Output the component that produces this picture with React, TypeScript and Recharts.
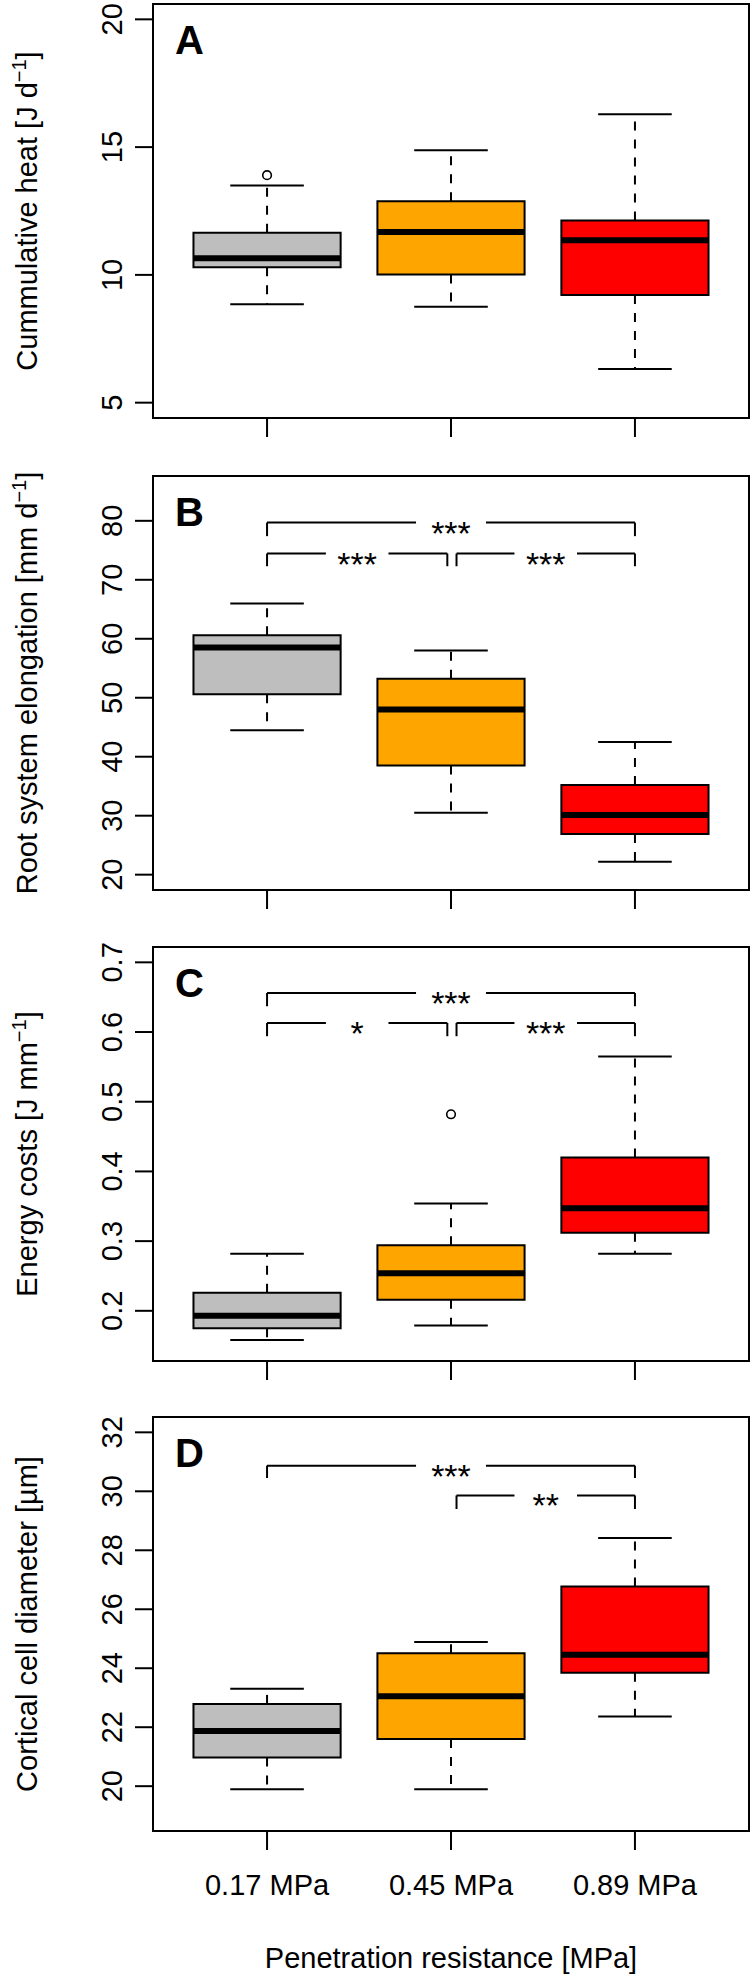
import React from 'react';
import {
  ComposedChart,
  XAxis,
  YAxis,
  ReferenceArea,
  ReferenceLine,
  ReferenceDot,
  Scatter,
} from 'recharts';

// ---------- shared categories ----------
const categories = ['0.17 MPa', '0.45 MPa', '0.89 MPa'];
const groupPositions = [1, 2, 3];
const boxColors = ['#BEBEBE', '#FFA500', '#FF0000'];
const xAxisTitle = 'Penetration resistance [MPa]';

type Bracket = { from: number; to: number; y: number; leg: number; label: string };

// ---------- Panel A: cumulative heat ----------
const heatLower = [8.85, 8.75, 6.32];
const heatQ1 = [10.3, 10.02, 9.21];
const heatMedian = [10.65, 11.68, 11.36];
const heatQ3 = [11.65, 12.88, 12.13];
const heatUpper = [13.5, 14.88, 16.29];
const heatOutliers = [{ x: 1, y: 13.9 }];
const heatTicks = [5, 10, 15, 20];
const heatLimits = [5, 20];
const heatBrackets: Bracket[] = [];

// ---------- Panel B: root system elongation ----------
const elongLower = [44.5, 30.5, 22.2];
const elongQ1 = [50.6, 38.5, 26.9];
const elongMedian = [58.5, 48.0, 30.1];
const elongQ3 = [60.6, 53.2, 35.2];
const elongUpper = [66.0, 58.0, 42.5];
const elongOutliers: { x: number; y: number }[] = [];
const elongTicks = [20, 30, 40, 50, 60, 70, 80];
const elongLimits = [20, 85];
const elongBrackets: Bracket[] = [
  { from: 1, to: 3, y: 79.7, leg: 77.4, label: '***' },
  { from: 1, to: 1.98, y: 74.45, leg: 72.3, label: '***' },
  { from: 2.03, to: 3, y: 74.45, leg: 72.3, label: '***' },
];

// ---------- Panel C: energy costs ----------
const energyLower = [0.158, 0.179, 0.282];
const energyQ1 = [0.175, 0.216, 0.312];
const energyMedian = [0.193, 0.254, 0.347];
const energyQ3 = [0.226, 0.294, 0.42];
const energyUpper = [0.282, 0.354, 0.565];
const energyOutliers = [{ x: 2, y: 0.482 }];
const energyTicks = [0.2, 0.3, 0.4, 0.5, 0.6, 0.7];
const energyLimits = [0.15, 0.7];
const energyBrackets: Bracket[] = [
  { from: 1, to: 3, y: 0.656, leg: 0.637, label: '***' },
  { from: 1, to: 1.98, y: 0.613, leg: 0.594, label: '*' },
  { from: 2.03, to: 3, y: 0.613, leg: 0.594, label: '***' },
];

// ---------- Panel D: cortical cell diameter ----------
const cellLower = [19.9, 19.9, 22.36];
const cellQ1 = [20.97, 21.6, 23.85];
const cellMedian = [21.87, 23.05, 24.46];
const cellQ3 = [22.79, 24.51, 26.77];
const cellUpper = [23.3, 24.89, 28.42];
const cellOutliers: { x: number; y: number }[] = [];
const cellTicks = [20, 22, 24, 26, 28, 30, 32];
const cellLimits = [19, 32];
const cellBrackets: Bracket[] = [
  { from: 1, to: 3, y: 30.87, leg: 30.45, label: '***' },
  { from: 2.03, to: 3, y: 29.86, leg: 29.4, label: '**' },
];

type PanelSpec = {
  letter: string;
  titleMain: string;
  titleSup: string;
  titleEnd: string;
  lower: number[];
  q1: number[];
  median: number[];
  q3: number[];
  upper: number[];
  outliers: { x: number; y: number }[];
  ticks: number[];
  limits: number[];
  brackets: Bracket[];
};

const panels: PanelSpec[] = [
  {
    letter: 'A', titleMain: 'Cummulative heat [J d', titleSup: '−1', titleEnd: ']',
    lower: heatLower, q1: heatQ1, median: heatMedian, q3: heatQ3, upper: heatUpper,
    outliers: heatOutliers, ticks: heatTicks, limits: heatLimits, brackets: heatBrackets,
  },
  {
    letter: 'B', titleMain: 'Root system elongation [mm d', titleSup: '−1', titleEnd: ']',
    lower: elongLower, q1: elongQ1, median: elongMedian, q3: elongQ3, upper: elongUpper,
    outliers: elongOutliers, ticks: elongTicks, limits: elongLimits, brackets: elongBrackets,
  },
  {
    letter: 'C', titleMain: 'Energy costs [J mm', titleSup: '−1', titleEnd: ']',
    lower: energyLower, q1: energyQ1, median: energyMedian, q3: energyQ3, upper: energyUpper,
    outliers: energyOutliers, ticks: energyTicks, limits: energyLimits, brackets: energyBrackets,
  },
  {
    letter: 'D', titleMain: 'Cortical cell diameter [µm]', titleSup: '', titleEnd: '',
    lower: cellLower, q1: cellQ1, median: cellMedian, q3: cellQ3, upper: cellUpper,
    outliers: cellOutliers, ticks: cellTicks, limits: cellLimits, brackets: cellBrackets,
  },
];

// ---------- layout / style ----------
const FONT = "'Liberation Sans', Arial, Helvetica, sans-serif";
const X_DOMAIN = [0.38, 3.62];
const PLOT_TOPS = [4, 476, 947, 1417];
const PLOT_H = 414;
const MARGIN_TOP = 4;
const BOX_HALF = 0.4;
const CAP_HALF = 0.2;
const LW = 2;

const emptyTick = () => <g />;

const yTickStyle = {
  angle: -90,
  textAnchor: 'middle',
  verticalAnchor: 'end',
  fontSize: 29,
  fontFamily: FONT,
  fill: '#000',
};

const xTick = (props: any) => {
  const { x, y, payload } = props;
  const idx = groupPositions.indexOf(payload.value);
  return (
    <g>
      <text x={x} y={y + 43} textAnchor="middle" fontSize={29} fontFamily={FONT} fill="#000">
        {categories[idx]}
      </text>
    </g>
  );
};

const yTitle = (spec: PanelSpec) => (props: any) => {
  const vb = props.viewBox || { x: 0, y: 0, width: 0, height: 0 };
  const x = vb.x + 37;
  const cy = vb.y + vb.height / 2;
  return (
    <g transform={`translate(${x}, ${cy}) rotate(-90)`}>
      <text x={0} y={0} textAnchor="middle" fontSize={29} fontFamily={FONT} fill="#000">
        <tspan>{spec.titleMain}</tspan>
        {spec.titleSup ? (
          <tspan dy={-11} fontSize={20}>
            {spec.titleSup}
          </tspan>
        ) : null}
        {spec.titleEnd ? <tspan dy={11}>{spec.titleEnd}</tspan> : null}
      </text>
    </g>
  );
};

const xTitle = (props: any) => {
  const vb = props.viewBox || { x: 0, y: 0, width: 0, height: 0 };
  return (
    <text
      x={vb.x + vb.width / 2}
      y={vb.y + 137}
      textAnchor="middle"
      fontSize={29}
      fontFamily={FONT}
      fill="#000"
    >
      {xAxisTitle}
    </text>
  );
};

const letterLabel = (letter: string) => (props: any) => {
  const vb = props.viewBox || { x: 0, y: 0 };
  return (
    <text x={vb.x + 22} y={vb.y + 50} fontSize={40} fontWeight="bold" fontFamily={FONT} fill="#000">
      {letter}
    </text>
  );
};

const starLabel = (text: string) => (props: any) => {
  const vb = props.viewBox || { x: 0, y: 0, width: 0, height: 0 };
  const cx = vb.x + (vb.width || 0) / 2;
  const cy = vb.y + (vb.height || 0) / 2;
  return (
    <text x={cx} y={cy + 22} textAnchor="middle" fontSize={34} fontFamily={FONT} fill="#000">
      {text}
    </text>
  );
};

const outlierShape = (props: any) => (
  <circle cx={props.cx} cy={props.cy} r={4.3} fill="none" stroke="#000" strokeWidth={1.6} />
);

function Panel({ spec, showX, index }: { spec: PanelSpec; showX: boolean; index: number }) {
  const pad = (spec.limits[1] - spec.limits[0]) * 0.04;
  const yDomain = [spec.limits[0] - pad, spec.limits[1] + pad];

  const elements: React.ReactNode[] = [];

  // boxes
  groupPositions.forEach((g, i) => {
    elements.push(
      <ReferenceArea
        key={`box-${i}`}
        x1={g - BOX_HALF}
        x2={g + BOX_HALF}
        y1={spec.q1[i]}
        y2={spec.q3[i]}
        fill={boxColors[i]}
        fillOpacity={1}
        stroke="#000"
        strokeWidth={LW}
      />
    );
  });
  // whiskers and caps
  groupPositions.forEach((g, i) => {
    elements.push(
      <ReferenceLine
        key={`wu-${i}`}
        segment={[{ x: g, y: spec.q3[i] }, { x: g, y: spec.upper[i] }]}
        stroke="#000"
        strokeWidth={LW}
        strokeDasharray="9 9"
      />,
      <ReferenceLine
        key={`wl-${i}`}
        segment={[{ x: g, y: spec.q1[i] }, { x: g, y: spec.lower[i] }]}
        stroke="#000"
        strokeWidth={LW}
        strokeDasharray="9 9"
      />,
      <ReferenceLine
        key={`cu-${i}`}
        segment={[{ x: g - CAP_HALF, y: spec.upper[i] }, { x: g + CAP_HALF, y: spec.upper[i] }]}
        stroke="#000"
        strokeWidth={LW}
      />,
      <ReferenceLine
        key={`cl-${i}`}
        segment={[{ x: g - CAP_HALF, y: spec.lower[i] }, { x: g + CAP_HALF, y: spec.lower[i] }]}
        stroke="#000"
        strokeWidth={LW}
      />
    );
  });
  // medians
  groupPositions.forEach((g, i) => {
    elements.push(
      <ReferenceLine
        key={`med-${i}`}
        segment={[{ x: g - BOX_HALF, y: spec.median[i] }, { x: g + BOX_HALF, y: spec.median[i] }]}
        stroke="#000"
        strokeWidth={6}
      />
    );
  });
  // significance brackets
  spec.brackets.forEach((b, j) => {
    const mid = (b.from + b.to) / 2;
    const gap = b.to - b.from > 1.5 ? 0.19 : 0.17;
    elements.push(
      <ReferenceLine
        key={`bl-${j}`}
        segment={[{ x: b.from, y: b.y }, { x: mid - gap, y: b.y }]}
        stroke="#000"
        strokeWidth={LW}
      />,
      <ReferenceLine
        key={`br-${j}`}
        segment={[{ x: mid + gap, y: b.y }, { x: b.to, y: b.y }]}
        stroke="#000"
        strokeWidth={LW}
      />,
      <ReferenceLine
        key={`bll-${j}`}
        segment={[{ x: b.from, y: b.y }, { x: b.from, y: b.leg }]}
        stroke="#000"
        strokeWidth={LW}
      />,
      <ReferenceLine
        key={`brl-${j}`}
        segment={[{ x: b.to, y: b.y }, { x: b.to, y: b.leg }]}
        stroke="#000"
        strokeWidth={LW}
      />,
      <ReferenceDot
        key={`bt-${j}`}
        x={mid}
        y={b.y}
        r={1}
        fill="none"
        stroke="none"
        label={starLabel(b.label)}
      />
    );
  });

  const top = PLOT_TOPS[index] - MARGIN_TOP;
  const height = showX ? 1976 - top : 470;
  const xAxisHeight = height - MARGIN_TOP - PLOT_H;

  return (
    <div style={{ position: 'absolute', left: 0, top, width: 752, height }}>
      <ComposedChart
        width={752}
        height={height}
        margin={{ top: MARGIN_TOP, right: 3, bottom: 0, left: 0 }}
      >
        <XAxis
          type="number"
          dataKey="x"
          domain={X_DOMAIN}
          ticks={groupPositions}
          allowDataOverflow
          interval={0}
          axisLine={false}
          tickSize={19}
          tickMargin={2}
          tickLine={{ stroke: '#000', strokeWidth: LW }}
          tick={showX ? xTick : emptyTick}
          height={xAxisHeight}
          label={showX ? xTitle : undefined}
        />
        <YAxis
          type="number"
          dataKey="y"
          domain={yDomain}
          ticks={spec.ticks}
          allowDataOverflow
          interval={0}
          axisLine={false}
          width={153}
          tickSize={18}
          tickMargin={23}
          tickLine={{ stroke: '#000', strokeWidth: LW }}
          tick={yTickStyle as any}
          label={yTitle(spec)}
        />
        {elements}
        <ReferenceArea
          x1={X_DOMAIN[0]}
          x2={X_DOMAIN[1]}
          y1={yDomain[0]}
          y2={yDomain[1]}
          fill="none"
          fillOpacity={0}
          stroke="#000"
          strokeWidth={LW}
          ifOverflow="visible"
          label={letterLabel(spec.letter)}
        />
        <Scatter
          data={spec.outliers}
          dataKey="y"
          isAnimationActive={false}
          shape={outlierShape}
        />
      </ComposedChart>
    </div>
  );
}

export default function App() {
  return (
    <div
      style={{
        position: 'absolute',
        left: 0,
        top: 0,
        width: 752,
        height: 1976,
        background: '#fff',
        overflow: 'hidden',
      }}
    >
      {panels.map((p, i) => (
        <Panel key={p.letter} spec={p} index={i} showX={i === panels.length - 1} />
      ))}
    </div>
  );
}
